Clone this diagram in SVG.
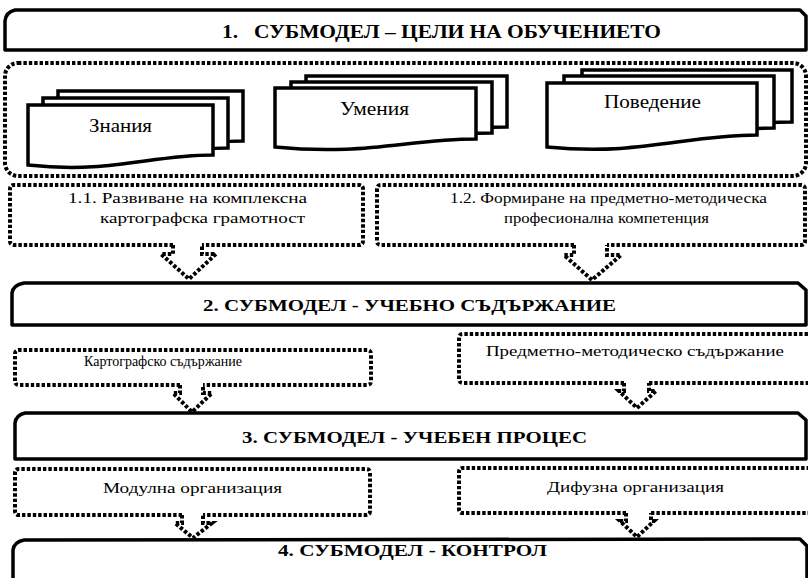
<svg xmlns="http://www.w3.org/2000/svg" width="808" height="578" viewBox="0 0 808 578">
<style>
.solid{fill:#fff;stroke:#000;stroke-width:3.5;stroke-linejoin:round}
.doc{fill:#fff;stroke:#000;stroke-width:3.5;stroke-linejoin:miter}
.dot{fill:none;stroke:#000;stroke-width:4;stroke-dasharray:3.4 2}
</style>
<rect width="808" height="578" fill="#fff"/>

<g id="submodel1">
<path class="solid" d="M15,10 L800,10 L806,16 L806,50 L5,50 L5,21 Q6,12 15,10 Z"/>
<text font-family="'Liberation Serif', serif" font-weight="bold" font-size="18" x="222" y="38" textLength="439" lengthAdjust="spacingAndGlyphs" xml:space="preserve">1.   СУБМОДЕЛ – ЦЕЛИ НА ОБУЧЕНИЕТО</text>
</g>

<g id="goals-container">
<rect class="dot" x="5" y="63" width="801" height="113" rx="13"/>
</g>

<g id="doc-znania">
<path class="doc" transform="translate(30,-14)" d="M28,105 H213 V155 C150,155 110.5,174 28,165 Z"/>
<path class="doc" transform="translate(15,-7)" d="M28,105 H213 V155 C150,155 110.5,174 28,165 Z"/>
<path class="doc" d="M28,105 H213 V155 C150,155 110.5,174 28,165 Z"/>
<text font-family="'Liberation Serif', serif" font-size="19" x="89" y="132" textLength="63" lengthAdjust="spacingAndGlyphs">Знания</text>
</g>

<g id="doc-umenia">
<path class="doc" transform="translate(31,-12)" d="M275,88 H476 V139 C407.7,139 364.6,156 275,147 Z"/>
<path class="doc" transform="translate(16,-6)" d="M275,88 H476 V139 C407.7,139 364.6,156 275,147 Z"/>
<path class="doc" d="M275,88 H476 V139 C407.7,139 364.6,156 275,147 Z"/>
<text font-family="'Liberation Serif', serif" font-size="19" x="340" y="115" textLength="69" lengthAdjust="spacingAndGlyphs">Умения</text>
</g>

<g id="doc-povedenie">
<path class="doc" transform="translate(35,-13)" d="M547,83 H757 V135 C685.6,135 640.7,156 547,147 Z"/>
<path class="doc" transform="translate(17,-7)" d="M547,83 H757 V135 C685.6,135 640.7,156 547,147 Z"/>
<path class="doc" d="M547,83 H757 V135 C685.6,135 640.7,156 547,147 Z"/>
<text font-family="'Liberation Serif', serif" font-size="19" x="604" y="108" textLength="97" lengthAdjust="spacingAndGlyphs">Поведение</text>
</g>

<g id="goal-1-1">
<path class="dot" d="M173,245 H14 Q10,245 10,241 V189 Q10,185 14,185 H359 Q363,185 363,189 V241 Q363,245 359,245 H202"/>
<text font-family="'Liberation Serif', serif" font-size="15" x="68" y="203" textLength="239" lengthAdjust="spacingAndGlyphs">1.1. Развиване на комплексна</text>
<text font-family="'Liberation Serif', serif" font-size="15" x="100" y="223" textLength="205" lengthAdjust="spacingAndGlyphs">картографска грамотност</text>
</g>

<g id="goal-1-2">
<path class="dot" d="M574,245 H381 Q377,245 377,241 V189 Q377,185 381,185 H801 Q805,185 805,189 V241 Q805,245 801,245 H607"/>
<text font-family="'Liberation Serif', serif" font-size="15" x="450" y="203" textLength="317" lengthAdjust="spacingAndGlyphs">1.2. Формиране на предметно-методическа</text>
<text font-family="'Liberation Serif', serif" font-size="15" x="504" y="223" textLength="205" lengthAdjust="spacingAndGlyphs">професионална компетенция</text>
</g>

<g id="submodel2">
<path class="solid" d="M24,283 L798,283 L806,290 L806,325 L12,325 L12,293 Q13,285 24,283 Z"/>
<text font-family="'Liberation Serif', serif" font-weight="bold" font-size="17" x="203" y="311" textLength="413" lengthAdjust="spacingAndGlyphs">2. СУБМОДЕЛ - УЧЕБНО СЪДЪРЖАНИЕ</text>
</g>

<g id="content-carto">
<path class="dot" d="M180,385 H19 Q15,385 15,381 V354 Q15,350 19,350 H367 Q371,350 371,354 V381 Q371,385 367,385 H203"/>
<text font-family="'Liberation Serif', serif" font-size="15.5" x="84" y="366" textLength="158" lengthAdjust="spacingAndGlyphs">Картографско съдържание</text>
</g>

<g id="content-method">
<path class="dot" d="M624,383 H463 Q459,383 459,379 V338 Q459,334 463,334 H812 M649,383 H812"/>
<text font-family="'Liberation Serif', serif" font-size="15" x="486" y="356" textLength="298" lengthAdjust="spacingAndGlyphs">Предметно-методическо съдържание</text>
</g>

<g id="submodel3">
<path class="solid" d="M25,413 L798,413 L806,420 L806,459 L15,459 L15,423 Q16,415 25,413 Z"/>
<text font-family="'Liberation Serif', serif" font-weight="bold" font-size="17" x="242" y="443" textLength="345" lengthAdjust="spacingAndGlyphs">3. СУБМОДЕЛ - УЧЕБЕН ПРОЦЕС</text>
</g>

<g id="org-modular">
<path class="dot" d="M182,515 H19 Q15,515 15,511 V473 Q15,469 19,469 H366 Q370,469 370,473 V511 Q370,515 366,515 H203"/>
<text font-family="'Liberation Serif', serif" font-size="15" x="103" y="493" textLength="179" lengthAdjust="spacingAndGlyphs">Модулна организация</text>
</g>

<g id="org-diffuse">
<path class="dot" d="M626,513 H463 Q459,513 459,509 V472 Q459,468 463,468 H812 M651,513 H812"/>
<text font-family="'Liberation Serif', serif" font-size="15" x="547" y="492" textLength="177" lengthAdjust="spacingAndGlyphs">Дифузна организация</text>
</g>

<g id="submodel4">
<path class="solid" d="M24,540 L800,539 L807,546 L807,590 L13,590 L13,550 Q14,542 24,540 Z"/>
<text font-family="'Liberation Serif', serif" font-weight="bold" font-size="17" x="278" y="556" textLength="269" lengthAdjust="spacingAndGlyphs">4. СУБМОДЕЛ - КОНТРОЛ</text>
</g>

<g id="connectors">
<path class="dot" d="M173,245 V254 H161 L189,279 L216,254 H202 V245"/>
<path class="dot" d="M574,245 V255 H564 L592,280 L621,255 H607 V245"/>
<path class="dot" d="M180,385 V393 H173 L192,412 L212,393 H203 V385"/>
<path class="dot" d="M624,383 V391 H619 L637,408 L656,391 H649 V383"/>
<path class="dot" d="M182,515 V523 H175 L193,538 L212,523 H203 V515"/>
<path class="dot" d="M626,513 V521 H620 L637,537 L654,521 H651 V513"/>
</g>
</svg>
